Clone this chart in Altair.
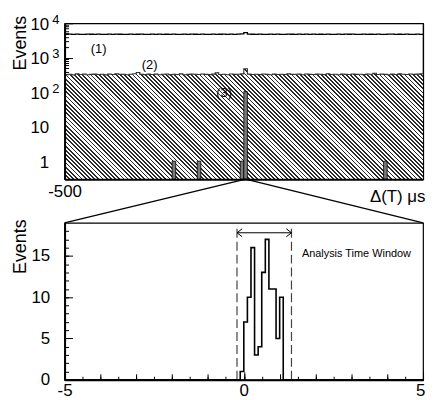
import math
import altair as alt
import pandas as pd

# ---------------- data ----------------
TOP_X_DOMAIN = [-500, 500]
TOP_Y_DOMAIN = [0.3, 10000]
TOP_BIN_WIDTH = 10

# (1) all coincidences, 10 us bins from -500 to 500
S1 = [4750, 4820, 4790, 4860, 4800, 4770, 4830, 4810, 4780, 4850,
      4800, 4760, 4820, 4790, 4840, 4810, 4770, 4800, 4830, 4780,
      4810, 4850, 4790, 4760, 4820, 4800, 4840, 4780, 4810, 4770,
      4830, 4800, 4790, 4850, 4760, 4820, 4810, 4780, 4840, 4800,
      4770, 4830, 4790, 4810, 4860, 4780, 4820, 4800, 4840, 4900,
      5350, 4880, 4810, 4790, 4830, 4770, 4800, 4850, 4780, 4820,
      4800, 4760, 4840, 4810, 4790, 4830, 4770, 4820, 4800, 4850,
      4780, 4810, 4760, 4830, 4800, 4790, 4840, 4770, 4820, 4810,
      4850, 4780, 4800, 4830, 4760, 4810, 4790, 4840, 4800, 4770,
      4820, 4850, 4790, 4810, 4780, 4830, 4800, 4760, 4820, 4790]

# (2) hatched histogram
S2 = [325, 332, 318, 340, 328, 335, 322, 330, 338, 326,
      331, 319, 336, 327, 342, 329, 334, 321, 333, 345,
      372, 330, 324, 339, 328, 335, 320, 331, 337, 325,
      333, 327, 340, 322, 329, 336, 331, 326, 338, 330,
      324, 335, 365, 328, 332, 321, 337, 329, 334, 340,
      480, 336, 327, 333, 325, 339, 330, 322, 336, 328,
      334, 326, 341, 329, 332, 335, 323, 338, 330, 327,
      336, 331, 325, 343, 328, 334, 321, 337, 330, 326,
      339, 329, 333, 324, 338, 331, 355, 327, 335, 330,
      322, 336, 328, 341, 333, 326, 339, 330, 335, 342]

# (3) selected events (bin start, count)
S3_START = [-200, -130, -10, 0, 390]
S3_COUNT = [1, 1, 1, 104, 1]

TOP_LABELS = ["(1)", "(2)", "(3)"]
TOP_LABEL_X = [-405, -263, -55]
TOP_LABEL_Y = [1815, 624, 92]

# zoomed histogram, 0.1 us bins
BOT_X_DOMAIN = [-5, 5]
BOT_Y_DOMAIN = [0, 19]
Z_BIN_WIDTH = 0.1
Z_START = [-0.1, 0.0, 0.1, 0.2, 0.3, 0.4, 0.5, 0.6, 0.7, 0.8, 0.9, 1.0]
Z_COUNT = [1, 7, 10, 16, 3, 4, 13, 17, 11, 11, 5, 10]
WINDOW = [-0.19, 1.33]
ARROW_Y = 17.8
WINDOW_TOP = 18.3
WINDOW_TEXT = "Analysis Time Window"
WINDOW_TEXT_X = 1.62
WINDOW_TEXT_Y = 14.9

# ---------------- layout / style ----------------
W, H = 361, 157
HB = 158
GAP = 44
FONT = "Liberation Sans"

n = len(S1)
starts = [TOP_X_DOMAIN[0] + TOP_BIN_WIDTH * i for i in range(n)]
df1 = pd.DataFrame({"x": starts + [TOP_X_DOMAIN[1]], "y": S1 + [S1[-1]]})
df2 = pd.DataFrame({"x": starts + [TOP_X_DOMAIN[1]], "y": S2 + [S2[-1]]})
df3 = pd.DataFrame({"x0": S3_START,
                    "x1": [s + TOP_BIN_WIDTH for s in S3_START],
                    "c": S3_COUNT})
dflab = pd.DataFrame({"t": TOP_LABELS, "x": TOP_LABEL_X, "y": TOP_LABEL_Y})

xs_top = alt.Scale(domain=TOP_X_DOMAIN, nice=False, zero=False)
ys_top = alt.Scale(type="log", domain=TOP_Y_DOMAIN, nice=False)

# hatch pattern built as a striped linear gradient
L = math.log10(TOP_Y_DOMAIN[1]) - math.log10(TOP_Y_DOMAIN[0])
ytop = (math.log10(TOP_Y_DOMAIN[1]) - math.log10(max(S2))) / L * H
Hb = H - ytop
c = (W + Hb) / (W * W + Hb * Hb)
PERIOD = 4.2
N = int(round((W + Hb) / PERIOD))
FRAC = 0.42
stops = []
for i in range(N):
    a = i / N
    b = (i + FRAC) / N
    e = (i + 1) / N
    stops += [alt.GradientStop(offset=round(a, 6), color="#2a2a2a"),
              alt.GradientStop(offset=round(b, 6), color="#2a2a2a"),
              alt.GradientStop(offset=round(b, 6), color="#ffffff"),
              alt.GradientStop(offset=round(e, 6), color="#ffffff")]
hatch_fill = alt.LinearGradient(gradient="linear", stops=stops,
                                x1=0, y1=1, x2=W * c, y2=1 - Hb * c)


def tick_axis(orient, offset, values, size):
    return alt.Axis(orient=orient, offset=offset, values=values, tickSize=size,
                    labels=False, domain=False, grid=False, title=None,
                    ticks=True, tickColor="black", tickWidth=1)


def axis_layer(x0, y0, xs, ys, xaxis, yaxis):
    d = pd.DataFrame({"x": [x0], "y": [y0]})
    return alt.Chart(d).mark_point(opacity=0, size=1).encode(
        x=alt.X("x:Q", scale=xs, axis=xaxis),
        y=alt.Y("y:Q", scale=ys, axis=yaxis))


minus_expr = "datum.value < 0 ? '-' + abs(datum.value) : '' + datum.value"

# ---------------- top panel ----------------
hatch = alt.Chart(df2).mark_area(interpolate="step-after", fill=hatch_fill).encode(
    x=alt.X("x:Q", scale=xs_top, axis=None),
    y=alt.Y("y:Q", scale=ys_top, axis=None),
    y2=alt.datum(TOP_Y_DOMAIN[0]))
outline2 = alt.Chart(df2).mark_line(interpolate="step-after", color="#333333",
                                    strokeWidth=1.1).encode(
    x=alt.X("x:Q", scale=xs_top, axis=None),
    y=alt.Y("y:Q", scale=ys_top, axis=None))
line1 = alt.Chart(df1).mark_line(interpolate="step-after", color="black",
                                 strokeWidth=1.3).encode(
    x=alt.X("x:Q", scale=xs_top, axis=None),
    y=alt.Y("y:Q", scale=ys_top, axis=None))
bars3 = alt.Chart(df3).mark_rect(fill="#7a7a7a", stroke="black", strokeWidth=0.8).encode(
    x=alt.X("x0:Q", scale=xs_top, axis=None),
    x2="x1:Q",
    y=alt.Y("c:Q", scale=ys_top, axis=None),
    y2=alt.datum(TOP_Y_DOMAIN[0]))
labels_top = alt.Chart(dflab).mark_text(fontSize=13, color="black", baseline="middle").encode(
    x=alt.X("x:Q", scale=xs_top, axis=None),
    y=alt.Y("y:Q", scale=ys_top, axis=None),
    text="t:N")

decades = [1, 10, 100, 1000, 10000]
minor_log = [m * 10 ** k for k in range(-1, 4) for m in range(2, 10)
             if TOP_Y_DOMAIN[0] < m * 10 ** k < TOP_Y_DOMAIN[1]]

ax_top_main = axis_layer(
    0, 1, xs_top, ys_top,
    alt.Axis(orient="bottom", values=[TOP_X_DOMAIN[0]], labelExpr=minus_expr,
             ticks=False, domain=True, domainWidth=2, domainColor="black",
             labelPadding=4, labelFontSize=17, labelFlush=False, grid=False,
             title="Δ(T) μs", titleFontSize=17, titleFontWeight="normal",
             titleAlign="right", titleBaseline="alphabetic", titleX=363, titleY=22,
             zindex=1),
    alt.Axis(orient="left", values=decades,
             labelExpr="datum.value < 5 ? '1' : '10'",
             ticks=False, domain=True, domainWidth=2, domainColor="black",
             labelPadding=16, labelAlign="right", labelBaseline="middle",
             labelFontSize=17, labelOffset=1, labelOverlap=False, grid=False,
             title="Events", titleFontSize=18, titleFontWeight="normal",
             titleAngle=270, titleAlign="right", titleBaseline="alphabetic",
             titleX=-39.5, titleY=-8, zindex=1))
ax_top_exp = axis_layer(
    0, 1, xs_top, ys_top, None,
    alt.Axis(orient="left", values=[100, 1000, 10000],
             labelExpr="datum.value == 100 ? '2' : datum.value == 1000 ? '3' : '4'",
             ticks=False, domain=False, labelPadding=13, labelAlign="left",
             labelBaseline="middle", labelFontSize=13, labelOffset=-4,
             labelOverlap=False, grid=False, title=None))
ax_top_t1 = axis_layer(0, 1, xs_top, ys_top, None,
                       tick_axis("right", -W, decades, 8))
ax_top_t2 = axis_layer(0, 1, xs_top, ys_top, None,
                       tick_axis("right", -W, minor_log, 4))
ax_top_right = axis_layer(
    0, 1, xs_top, ys_top, None,
    alt.Axis(orient="right", ticks=False, labels=False, domain=True,
             domainColor="black", domainWidth=1.2, grid=False, title=None, zindex=1))

top = alt.layer(hatch, outline2, line1, bars3, labels_top,
                ax_top_main, ax_top_exp, ax_top_t1, ax_top_t2, ax_top_right
                ).resolve_axis(x="independent", y="independent").properties(width=W, height=H)

# ---------------- bottom panel ----------------
xs_bot = alt.Scale(domain=BOT_X_DOMAIN, nice=False, zero=False)
ys_bot = alt.Scale(domain=BOT_Y_DOMAIN, nice=False, zero=False)

zx = [BOT_X_DOMAIN[0]] + Z_START + [Z_START[-1] + Z_BIN_WIDTH, BOT_X_DOMAIN[1]]
zy = [0] + Z_COUNT + [0, 0]
dfz = pd.DataFrame({"x": zx, "y": zy})
zhist = alt.Chart(dfz).mark_line(interpolate="step-after", color="black",
                                 strokeWidth=1.6).encode(
    x=alt.X("x:Q", scale=xs_bot, axis=None),
    y=alt.Y("y:Q", scale=ys_bot, axis=None))

dfw = pd.DataFrame({"x": WINDOW, "y0": [BOT_Y_DOMAIN[0]] * 2, "y1": [WINDOW_TOP] * 2})
dashes = alt.Chart(dfw).mark_rule(color="#444444", strokeDash=[9, 4], strokeWidth=1.2).encode(
    x=alt.X("x:Q", scale=xs_bot, axis=None),
    y=alt.Y("y0:Q", scale=ys_bot, axis=None), y2="y1:Q")
dfa = pd.DataFrame({"x0": [WINDOW[0]], "x1": [WINDOW[1]], "y": [ARROW_Y]})
shaft = alt.Chart(dfa).mark_rule(color="black", strokeWidth=1).encode(
    x=alt.X("x0:Q", scale=xs_bot, axis=None), x2="x1:Q",
    y=alt.Y("y:Q", scale=ys_bot, axis=None))
head_l = alt.Chart(dfa).mark_point(shape="M1.3,-1L0,0L1.3,1", filled=False,
                                   color="black", strokeWidth=1, size=64, opacity=1).encode(
    x=alt.X("x0:Q", scale=xs_bot, axis=None),
    y=alt.Y("y:Q", scale=ys_bot, axis=None))
head_r = alt.Chart(dfa).mark_point(shape="M-1.3,-1L0,0L-1.3,1", filled=False,
                                   color="black", strokeWidth=1, size=64, opacity=1).encode(
    x=alt.X("x1:Q", scale=xs_bot, axis=None),
    y=alt.Y("y:Q", scale=ys_bot, axis=None))
dft = pd.DataFrame({"x": [WINDOW_TEXT_X], "y": [WINDOW_TEXT_Y], "t": [WINDOW_TEXT]})
wtext = alt.Chart(dft).mark_text(align="left", baseline="alphabetic", fontSize=11,
                                 color="black").encode(
    x=alt.X("x:Q", scale=xs_bot, axis=None),
    y=alt.Y("y:Q", scale=ys_bot, axis=None),
    text="t:N")

# connecting lines from the zoomed bin in the top panel to the bottom frame corners
peak = S3_START[S3_COUNT.index(max(S3_COUNT))] + TOP_BIN_WIDTH / 2
frac = (peak - TOP_X_DOMAIN[0]) / (TOP_X_DOMAIN[1] - TOP_X_DOMAIN[0])
xt = BOT_X_DOMAIN[0] + frac * (BOT_X_DOMAIN[1] - BOT_X_DOMAIN[0])
dfc = pd.DataFrame({"xt": [xt, xt], "xb": BOT_X_DOMAIN})
conn = alt.Chart(dfc).mark_rule(color="black", strokeWidth=1.3).encode(
    x=alt.X("xt:Q", scale=xs_bot, axis=None), x2="xb:Q",
    y=alt.value(-GAP), y2=alt.value(0))

half = [BOT_X_DOMAIN[0] + 0.5 * i for i in range(21)]
ones = [BOT_X_DOMAIN[0] + i for i in range(11)]
ax_bot_main = axis_layer(
    0, 1, xs_bot, ys_bot,
    alt.Axis(orient="bottom", values=[-5, 0], labelExpr=minus_expr,
             ticks=False, domain=True, domainWidth=2, domainColor="black",
             labelPadding=3, labelFontSize=17, labelFlush=False, grid=False,
             title=None, zindex=1),
    alt.Axis(orient="left", values=[0, 5, 10, 15],
             ticks=False, domain=True, domainWidth=2, domainColor="black",
             labelPadding=15, labelAlign="right", labelBaseline="middle",
             labelFontSize=17, labelOverlap=False, grid=False,
             title="Events", titleFontSize=18, titleFontWeight="normal",
             titleAngle=270, titleAlign="right", titleBaseline="alphabetic",
             titleX=-39.5, titleY=-4, zindex=1))
ax_bot_last = axis_layer(
    0, 1, xs_bot, ys_bot,
    alt.Axis(orient="bottom", values=[5], ticks=False, domain=False,
             labelPadding=3, labelFontSize=17, labelFlush=False, grid=False,
             labelAlign="right", labelOffset=2, title=None),
    None)
ax_bot_x1 = axis_layer(0, 1, xs_bot, ys_bot, tick_axis("top", -HB, [-5, 0, 5], 8), None)
ax_bot_x2 = axis_layer(0, 1, xs_bot, ys_bot, tick_axis("top", -HB, ones, 6), None)
ax_bot_x3 = axis_layer(0, 1, xs_bot, ys_bot, tick_axis("top", -HB, half, 3.5), None)
ax_bot_y1 = axis_layer(0, 1, xs_bot, ys_bot, None, tick_axis("right", -W, [0, 5, 10, 15], 8))
ax_bot_y2 = axis_layer(0, 1, xs_bot, ys_bot, None,
                       tick_axis("right", -W, list(range(0, 19)), 4))

bottom = alt.layer(zhist, dashes, shaft, head_l, head_r, wtext, conn,
                   ax_bot_main, ax_bot_last, ax_bot_x1, ax_bot_x2, ax_bot_x3,
                   ax_bot_y1, ax_bot_y2
                   ).resolve_axis(x="independent", y="independent").properties(width=W, height=HB)

chart = alt.vconcat(top, bottom, spacing=GAP, bounds="flush").properties(
    padding={"left": 2, "top": 3, "right": 0, "bottom": 0}
).configure(font=FONT).configure_view(stroke="black", strokeWidth=1.2).configure_axis(
    labelColor="black", titleColor="black", labelFont=FONT, titleFont=FONT)

chart.save("out.html", embed_options={"renderer": "svg", "actions": False})
